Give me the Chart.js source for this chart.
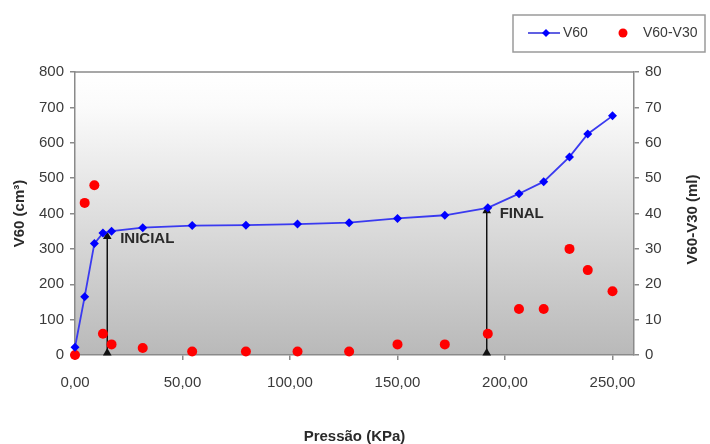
<!DOCTYPE html>
<html>
<head>
<meta charset="utf-8">
<script src="https://cdn.jsdelivr.net/npm/chart.js@4"></script>
<style>
  html, body { margin: 0; padding: 0; background: #fff; }
  #wrap { width: 710px; height: 444px; }
</style>
</head>
<body>
<div id="wrap"><canvas id="grafico"></canvas></div>
<script>
// dados
const pressao = [0, 4.5, 9, 13, 17, 31.5, 54.5, 79.5, 103.5, 127.5, 150, 172, 192, 206.5, 218, 230, 238.5, 250];
const v60 = [22, 165, 315, 345, 350, 360, 366, 367, 370, 374, 386, 395, 416, 456, 490, 560, 625, 676];
const v60v30 = [0, 43, 48, 6, 3, 2, 1, 1, 1, 1, 3, 3, 6, 13, 13, 30, 24, 18];
const xTicks = [0, 50, 100, 150, 200, 250];

// setas INICIAL / FINAL
const setaX = [15, 191.5];
const setaBase = [6, 6];
const setaTopo = [335, 408];
const setaTexto = ['INICIAL', 'FINAL'];

const corTexto = '#3a3a3a';
const corEixo = '#8a8a8a';

const fundo = {
    id: 'fundo',
    beforeDraw(chart) {
        const { ctx, chartArea: a } = chart;
        const g = ctx.createLinearGradient(0, a.top, 0, a.bottom);
        g.addColorStop(0, '#ffffff');
        g.addColorStop(0.12, '#fbfbfb');
        g.addColorStop(1, '#b9b9b9');
        ctx.save();
        ctx.fillStyle = g;
        ctx.fillRect(a.left, a.top, a.right - a.left, a.bottom - a.top);
        ctx.restore();
    },
    afterDraw(chart) {
        const { ctx, chartArea: a } = chart;
        ctx.save();
        // borda de cima
        ctx.strokeStyle = corEixo;
        ctx.lineWidth = 1.5;
        ctx.beginPath();
        ctx.moveTo(a.left, a.top);
        ctx.lineTo(a.right, a.top);
        ctx.stroke();

        // textos das setas
        const sx = chart.scales.x, sy = chart.scales.y;
        ctx.fillStyle = '#2a2a2a';
        ctx.font = 'bold 15px "Liberation Sans", Arial, sans-serif';
        ctx.textBaseline = 'middle';
        ctx.fillText(setaTexto[0], sx.getPixelForValue(setaX[0] + 6), sy.getPixelForValue(setaTopo[0] - 8));
        ctx.fillText(setaTexto[1], sx.getPixelForValue(setaX[1] + 6), sy.getPixelForValue(setaTopo[1] - 8));

        // título do eixo direito
        ctx.save();
        ctx.translate(693, (a.top + a.bottom) / 2 + 6);
        ctx.rotate(-Math.PI / 2);
        ctx.textAlign = 'center';
        ctx.fillStyle = '#2a2a2a';
        ctx.font = 'bold 15px "Liberation Sans", Arial, sans-serif';
        ctx.fillText('V60-V30 (ml)', 0, 0);
        ctx.restore();

        // legenda
        ctx.strokeStyle = '#9a9a9a';
        ctx.lineWidth = 1.5;
        ctx.strokeRect(513, 15, 192, 37);
        ctx.strokeStyle = '#2b2bd8';
        ctx.lineWidth = 1.5;
        ctx.beginPath();
        ctx.moveTo(528, 33);
        ctx.lineTo(560, 33);
        ctx.stroke();
        ctx.fillStyle = '#0000ff';
        ctx.beginPath();
        ctx.moveTo(546, 29); ctx.lineTo(550, 33); ctx.lineTo(546, 37); ctx.lineTo(542, 33);
        ctx.closePath();
        ctx.fill();
        ctx.fillStyle = '#ff0000';
        ctx.beginPath();
        ctx.arc(623, 33, 4.5, 0, Math.PI * 2);
        ctx.fill();
        ctx.fillStyle = corTexto;
        ctx.font = '14px "Liberation Sans", Arial, sans-serif';
        ctx.textBaseline = 'middle';
        ctx.fillText('V60', 563, 33);
        ctx.fillText('V60-V30', 643, 33);
        ctx.restore();
    }
};

const fonteTick = { family: '"Liberation Sans", Arial, sans-serif', size: 15 };
const fonteTitulo = { family: '"Liberation Sans", Arial, sans-serif', size: 15, weight: 'bold' };

const setas = setaX.map((x, i) => ({
    data: [{ x: x, y: setaBase[i] }, { x: x, y: setaTopo[i] }],
    showLine: true,
    clip: false,
    borderColor: '#111',
    borderWidth: 1.5,
    pointStyle: 'triangle',
    pointRadius: 5,
    pointBackgroundColor: '#111',
    pointBorderWidth: 0,
    yAxisID: 'y'
}));

new Chart(document.getElementById('grafico'), {
    type: 'scatter',
    data: {
        datasets: [
            {
                label: 'V60',
                data: pressao.map((p, i) => ({ x: p, y: v60[i] })),
                showLine: true,
                clip: false,
                borderColor: '#3a3af0',
                borderWidth: 1.8,
                pointStyle: 'rectRot',
                pointRadius: 4.5,
                pointBackgroundColor: '#0000ff',
                pointBorderWidth: 0,
                yAxisID: 'y'
            },
            {
                label: 'V60-V30',
                data: pressao.map((p, i) => ({ x: p, y: v60v30[i] })),
                clip: false,
                pointStyle: 'circle',
                pointRadius: 5,
                pointBackgroundColor: '#ff0000',
                pointBorderWidth: 0,
                yAxisID: 'y2'
            },
            ...setas
        ]
    },
    options: {
        responsive: true,
        maintainAspectRatio: false,
        animation: false,
        layout: { padding: { top: 72, left: 0, right: 0, bottom: 0 } },
        scales: {
            x: {
                type: 'linear',
                min: 0,
                max: 260,
                afterBuildTicks: s => { s.ticks = xTicks.map(v => ({ value: v })); },
                afterFit: s => { s.height = 444 - 355; },
                ticks: {
                    color: corTexto,
                    font: fonteTick,
                    padding: 14,
                    maxRotation: 0,
                    callback: v => v.toFixed(2).replace('.', ',')
                },
                grid: { drawOnChartArea: false, drawTicks: true, tickLength: 5, color: corEixo, lineWidth: 1.5 },
                border: { display: true, color: corEixo, width: 1.5 },
                title: { display: true, text: 'Pressão (KPa)', color: '#2a2a2a', font: fonteTitulo, padding: { top: 0, bottom: -2 } }
            },
            y: {
                position: 'left',
                min: 0,
                max: 800,
                afterFit: s => { s.width = 75; },
                ticks: { stepSize: 100, color: corTexto, font: fonteTick, padding: 6 },
                grid: { drawOnChartArea: false, drawTicks: true, tickLength: 5, color: corEixo, lineWidth: 1.5 },
                border: { display: true, color: corEixo, width: 1.5 },
                title: { display: true, text: 'V60 (cm³)', color: '#2a2a2a', font: fonteTitulo, padding: { top: 11, bottom: 0 } }
            },
            y2: {
                position: 'right',
                min: 0,
                max: 80,
                afterFit: s => { s.width = 710 - 634; },
                ticks: { stepSize: 10, color: corTexto, font: fonteTick, padding: 6 },
                grid: { drawOnChartArea: false, drawTicks: true, tickLength: 5, color: corEixo, lineWidth: 1.5 },
                border: { display: true, color: corEixo, width: 1.5 }
            }
        },
        plugins: {
            legend: { display: false },
            tooltip: { enabled: false }
        }
    },
    plugins: [fundo]
});
</script>
</body>
</html>
